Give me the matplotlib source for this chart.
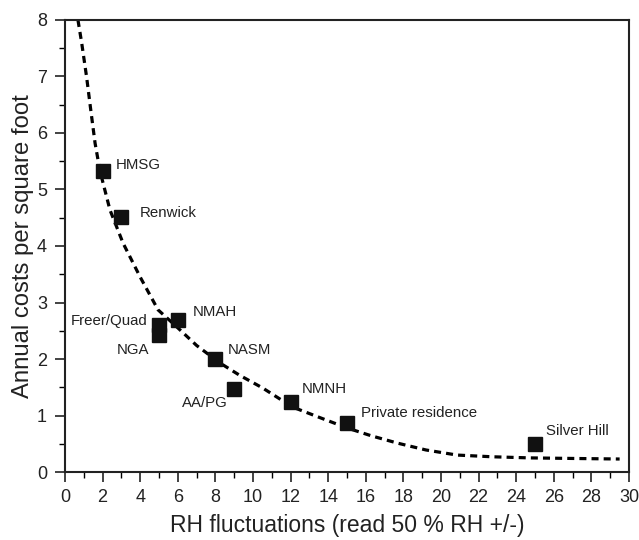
import matplotlib
matplotlib.use("Agg")
import matplotlib.pyplot as plt
from matplotlib.ticker import MultipleLocator

plt.rcParams['font.family'] = ['Liberation Sans', 'DejaVu Sans']

# Data points
names = ["HMSG", "Renwick", "Freer/Quad", "NGA", "NMAH", "NASM", "AA/PG", "NMNH",
         "Private residence", "Silver Hill"]
rh = [2, 3, 5, 5, 6, 8, 9, 12, 15, 25]
cost = [5.33, 4.51, 2.60, 2.42, 2.69, 2.00, 1.47, 1.24, 0.87, 0.50]

# Fitted curve
curve_x = [0.69, 0.89, 1.15, 1.37, 1.60, 1.86, 2.39, 3.09, 4.0, 4.95, 5.94, 7.0,
           8.24, 9.3, 10.5, 12.1, 13.5, 15.0, 16.3, 17.7, 19.2, 20.85, 22.7, 24.7,
           27.0, 29.5]
curve_y = [8.0, 7.59, 6.99, 6.41, 5.82, 5.33, 4.64, 4.05, 3.45, 2.87, 2.57, 2.24,
           1.93, 1.71, 1.49, 1.15, 0.97, 0.78, 0.64, 0.51, 0.39, 0.30, 0.27, 0.25,
           0.24, 0.23]

# label anchor positions (data coords) and alignment
label_pos = [(2.71, 5.43, 'left'), (3.99, 4.58, 'left'), (4.41, 2.67, 'right'),
             (4.47, 2.16, 'right'), (6.81, 2.83, 'left'), (8.67, 2.16, 'left'),
             (8.67, 1.22, 'right'), (12.6, 1.47, 'left'), (15.74, 1.04, 'left'),
             (25.6, 0.73, 'left')]

fig = plt.figure(figsize=(6.39, 5.40), dpi=100)
ax = fig.add_axes([0.1017, 0.1259, 0.8827, 0.8371])

ax.plot(curve_x, curve_y, linestyle=(0, (2.2, 1.6)), color='black', lw=2.3)
ax.plot(rh, cost, linestyle='none', marker='s', markersize=9.5, color='#111111')

for n, (lx, ly, ha) in zip(names, label_pos):
    ax.text(lx, ly, n, ha=ha, va='center', fontsize=10.8, color='#222222')

ax.set_xlim(0, 30)
ax.set_ylim(0, 8)
ax.xaxis.set_major_locator(MultipleLocator(2))
ax.xaxis.set_minor_locator(MultipleLocator(1))
ax.yaxis.set_major_locator(MultipleLocator(1))
ax.yaxis.set_minor_locator(MultipleLocator(0.5))
ax.tick_params(which='major', direction='out', length=7, width=1.2, labelsize=13,
               colors='#222222', pad=5)
ax.tick_params(which='minor', direction='out', length=4, width=1.0)
ax.tick_params(axis='y', which='major', pad=6)
ax.tick_params(top=False, right=False, which='both')
for s in ax.spines.values():
    s.set_linewidth(1.5)
    s.set_color('#222222')

ax.set_xlabel("RH fluctuations (read 50 % RH +/-)", fontsize=16.5, color='#222222', labelpad=6)
ax.set_ylabel("Annual costs per square foot", fontsize=17.2, color='#222222', labelpad=2)

fig.savefig("out.png", dpi=100)
